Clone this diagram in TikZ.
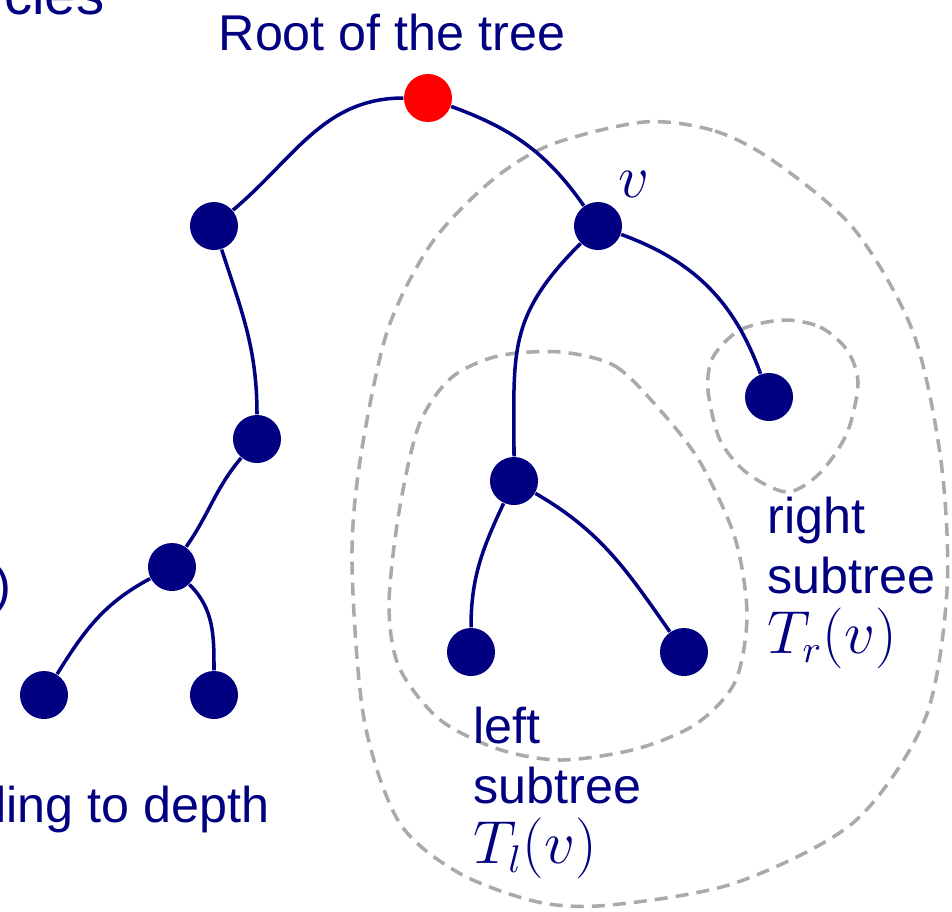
\documentclass[tikz,border=0pt]{standalone}
\usepackage{fontspec}
\setsansfont{Liberation Sans}
\definecolor{treeblue}{RGB}{0,0,128}
\definecolor{rootred}{RGB}{255,0,0}
\definecolor{blobgray}{RGB}{170,170,170}
\usetikzlibrary{positioning}

\begin{document}
\begin{tikzpicture}[x=0.01cm, y=0.01cm,
  vert/.style={circle, fill=treeblue, minimum size=0.48cm, inner sep=0pt},
  rootvert/.style={vert, fill=rootred},
  edge/.style={draw=treeblue, line width=1pt},
  blob/.style={draw=blobgray, line width=1pt, dash pattern=on 3.7pt off 2.3pt},
  lbl/.style={text=treeblue, font=\sffamily\fontsize{14.3}{17.1}\selectfont, inner sep=0pt},
  mathlbl/.style={lbl, font=\fontsize{16}{17.1}\selectfont}]
  \useasboundingbox (0,0) rectangle (952,-911);
  \clip (0,0) rectangle (952,-911);
  % dashed regions: whole subtree of v, left and right subtrees
  \draw[blob] plot[smooth cycle] coordinates {(644,-122) (715,-131) (775,-162) (854,-229) (913,-332) (941,-461) (947,-590) (925,-719) (854,-822) (735,-883) (610,-905) (538,-902) (459,-873) (399,-822) (364,-719) (352,-564) (360,-461) (387,-332) (431,-244) (490,-182) (550,-145)};
  \draw[blob] plot[smooth cycle] coordinates {(560,-352) (615,-366) (660,-410) (700,-462) (735,-538) (747,-615) (735,-682) (696,-724) (636,-749) (561,-760) (498,-749) (439,-719) (399,-667) (389,-605) (399,-512) (419,-425) (451,-378) (498,-356)};
  \draw[blob] plot[smooth cycle] coordinates {(783,-320) (820,-327) (847,-350) (858,-383) (847,-433) (820,-473) (787,-492) (747,-473) (720,-440) (708,-390) (713,-357) (740,-330)};
  % vertices
  \node[rootvert] (root) at (428,-98) {};
  \node[vert] (a) at (214,-226) {};
  \node[vert] (v) at (598,-226) {};
  \node[vert] (b) at (257,-439) {};
  \node[vert] (c) at (172,-567) {};
  \node[vert] (d) at (44,-695) {};
  \node[vert] (e) at (214,-695) {};
  \node[vert] (f) at (769,-397) {};
  \node[vert] (g) at (514,-481) {};
  \node[vert] (h) at (471,-652) {};
  \node[vert] (i) at (684,-652) {};
  % edges
  \draw[edge] (root) to[out=180, in=40] (a);
  \draw[edge] (root) to[out=-20, in=125] (v);
  \draw[edge] (a) to[out=-72, in=90] (b);
  \draw[edge] (b) to[out=-130, in=55] (c);
  \draw[edge] (c) to[out=-152, in=58] (d);
  \draw[edge] (c) to[out=-45, in=90] (e);
  \draw[edge] (v) to[out=-135, in=90, looseness=1.2] (g);
  \draw[edge] (v) to[out=-20, in=110] (f);
  \draw[edge] (g) to[out=-115, in=90] (h);
  \draw[edge] (g) to[out=-30, in=125] (i);
  % labels
  \node[lbl, anchor=base west] (roottext) at (218,-50) {Root of the tree};
  \node[mathlbl, anchor=base] (vtext) at (634,-197) {$v$};
  \node[lbl, anchor=north west, align=left] (lefttext) at (473,-706) {left\\subtree\\{\fontsize{16}{17.1}\selectfont$T_l(v)$}};
  \node[lbl, anchor=north west, align=left] (righttext) at (767,-496) {right\\subtree\\{\fontsize{16}{17.1}\selectfont$T_r(v)$}};
  \node[lbl, anchor=base east, font=\sffamily\fontsize{16}{19}\selectfont] (toptext) at (105,-14) {cies};
  \node[lbl, anchor=base east] (parentext) at (12,-602) {)};
  \node[lbl, anchor=base east] (depthtext) at (270,-822) {ling to depth};
\end{tikzpicture}
\end{document}
